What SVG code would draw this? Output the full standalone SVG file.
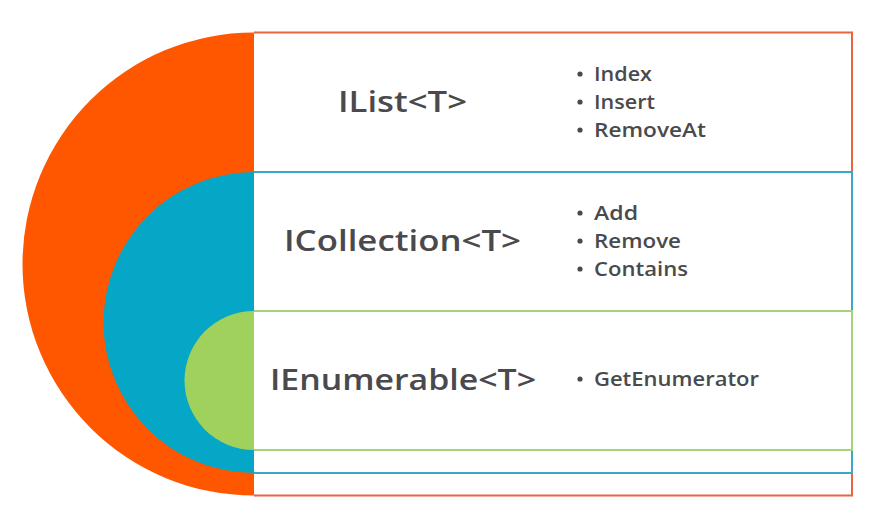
<svg xmlns="http://www.w3.org/2000/svg" width="880" height="518" viewBox="0 0 880 518">
<style>
.title{font-family:"Open Sans","Liberation Sans",sans-serif;font-weight:600;font-size:29px;fill:#4a4a4d;text-anchor:middle}
.item{font-family:"Open Sans","Liberation Sans",sans-serif;font-weight:600;font-size:19px;fill:#4a4a4d}
.dot{fill:#4a4a4d}
.box{fill:none;stroke-width:2}
</style>
<rect width="880" height="518" fill="#ffffff"/>
<g id="ilist">
<path d="M254,32.5 A231.5,231.5 0 0 0 254,495.5 Z" fill="#fe5700"/>
<path class="box" d="M254,32.5 H852 V495.5 H254" stroke="#e8653d"/>
<text class="title" x="402.5" y="112" textLength="129" lengthAdjust="spacingAndGlyphs">IList&lt;T&gt;</text>
<circle class="dot" cx="580" cy="74" r="2.6"/>
<circle class="dot" cx="580" cy="102" r="2.6"/>
<circle class="dot" cx="580" cy="130" r="2.6"/>
<text class="item" x="594" y="81" textLength="58" lengthAdjust="spacingAndGlyphs">Index</text>
<text class="item" x="594" y="109" textLength="61" lengthAdjust="spacingAndGlyphs">Insert</text>
<text class="item" x="594" y="137" textLength="112" lengthAdjust="spacingAndGlyphs">RemoveAt</text>
</g>
<g id="icollection">
<path d="M254,172 A150.5,150.5 0 0 0 254,473 Z" fill="#05a6c6"/>
<path class="box" d="M254,172 H852 V473 H254" stroke="#3aa8c8"/>
<text class="title" x="402.5" y="251" textLength="237" lengthAdjust="spacingAndGlyphs">ICollection&lt;T&gt;</text>
<circle class="dot" cx="580" cy="213" r="2.6"/>
<circle class="dot" cx="580" cy="241" r="2.6"/>
<circle class="dot" cx="580" cy="269" r="2.6"/>
<text class="item" x="594" y="220" textLength="44" lengthAdjust="spacingAndGlyphs">Add</text>
<text class="item" x="594" y="248" textLength="87" lengthAdjust="spacingAndGlyphs">Remove</text>
<text class="item" x="594" y="276" textLength="94" lengthAdjust="spacingAndGlyphs">Contains</text>
</g>
<g id="ienumerable">
<path d="M254,311 A69.5,69.5 0 0 0 254,450 Z" fill="#a0d15c"/>
<path class="box" d="M254,311 H852 V450 H254" stroke="#a6d27a"/>
<text class="title" x="403" y="390" textLength="266" lengthAdjust="spacingAndGlyphs">IEnumerable&lt;T&gt;</text>
<circle class="dot" cx="580" cy="379" r="2.6"/>
<text class="item" x="594" y="386" textLength="165" lengthAdjust="spacingAndGlyphs">GetEnumerator</text>
</g>
<g id="connectors"/>
</svg>
